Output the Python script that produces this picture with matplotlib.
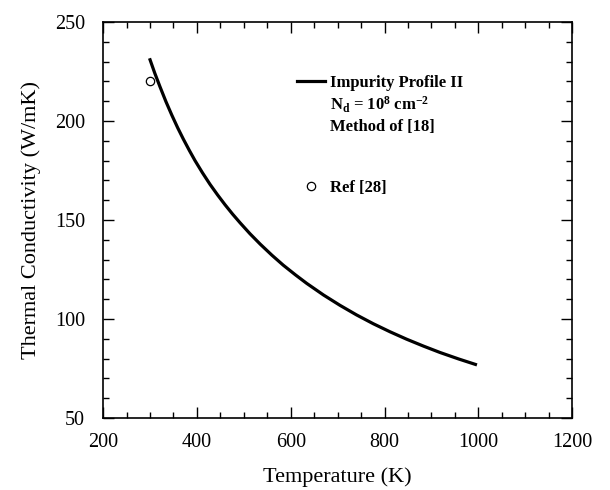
import matplotlib.pyplot as plt
from matplotlib.lines import Line2D
from matplotlib.ticker import MultipleLocator

# curve
temp = [299, 310, 321.5, 334, 346.5, 359, 371, 384, 396, 412, 428, 444, 460, 476, 492,
        513, 535, 560, 584, 610, 634, 670, 705, 740, 776, 812, 847, 883, 918, 958, 997]
kappa = [231.7, 224.3, 217.2, 209.8, 203, 196.6, 190.9, 185.1, 180, 173.8, 168, 162.7,
         157.7, 153, 148.6, 143.1, 137.8, 132.2, 127.2, 122.3, 118, 112.1, 106.9, 102.1,
         97.6, 93.5, 89.8, 86.3, 83.1, 79.8, 76.8]
# reference point
ref_t = [300]
ref_k = [220]

plt.rcParams['font.family'] = ['Liberation Serif', 'DejaVu Serif']
plt.rcParams['mathtext.fontset'] = 'custom'
plt.rcParams['mathtext.rm'] = 'Liberation Serif:bold'
plt.rcParams['mathtext.it'] = 'Liberation Serif:bold'

fig = plt.figure(figsize=(6.1, 4.9), dpi=100)
ax = fig.add_axes([0.169, 0.147, 0.769, 0.808])

ax.plot(temp, kappa, color='black', lw=2.3, solid_capstyle='butt', solid_joinstyle='round')
ax.plot(ref_t, ref_k, 'o', mfc='white', mec='black', ms=6, mew=0.9)

ax.set_xlim(200, 1200)
ax.set_ylim(50, 250)
ax.xaxis.set_major_locator(MultipleLocator(200))
ax.xaxis.set_minor_locator(MultipleLocator(50))
ax.yaxis.set_major_locator(MultipleLocator(50))
ax.yaxis.set_minor_locator(MultipleLocator(10))
ax.tick_params(which='both', direction='in', top=True, right=True, width=1)
ax.tick_params(which='major', length=8, labelsize=14.5)
ax.tick_params(which='minor', length=4.5)
ax.tick_params(axis='x', which='major', pad=11)
ax.tick_params(axis='y', which='major', pad=13)
for s in ax.spines.values():
    s.set_linewidth(1.2)

ax.set_xlabel('Temperature (K)', fontsize=16, labelpad=11)
ax.set_ylabel('Thermal Conductivity (W/mK)', fontsize=16, labelpad=10)

blank = Line2D([], [], color='none')
handles = [Line2D([], [], color='black', lw=2.3), blank, blank, blank, blank,
           Line2D([], [], ls='none', marker='o', mfc='white', mec='black', ms=6, mew=0.9)]
labels = ['Impurity Profile II', r'N$_d$ = 10$^8$ cm$^{-2}$', 'Method of [18]', ' ', ' ', 'Ref [28]']
ax.legend(handles, labels, loc='upper left', bbox_to_anchor=(0.381, 0.905), frameon=False,
          prop={'family': 'Liberation Serif', 'weight': 'bold', 'size': 12},
          handlelength=1.7, handletextpad=0.3, labelspacing=0.25)

fig.savefig('out.png', dpi=100)
